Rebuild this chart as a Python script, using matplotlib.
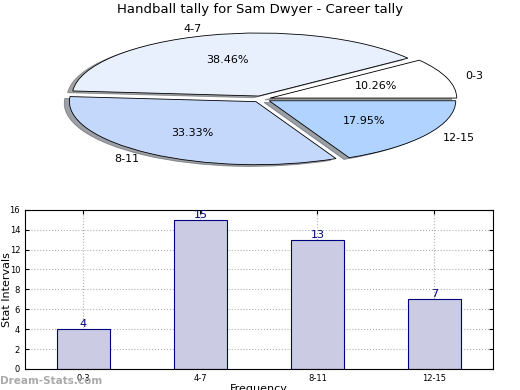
import numpy as np
import matplotlib
matplotlib.use("Agg")
import matplotlib.pyplot as plt

# data
categories = ["0-3", "4-7", "8-11", "12-15"]
counts = [4, 15, 13, 7]
pie_colors = ["#ffffff", "#e8f0fe", "#c4d8fc", "#b0d4ff"]

fig = plt.figure(figsize=(5.2, 3.9), dpi=100)

# pie on top, squashed into a wide axes
ax1 = fig.add_axes([0.054, 0.544, 0.897, 0.404])
ax1.pie(counts, labels=categories, colors=pie_colors, autopct="%1.2f%%",
        explode=[0.05] * 4, shadow=True, startangle=0,
        wedgeprops={"edgecolor": "black", "linewidth": 0.6},
        textprops={"fontsize": 8})
ax1.set_aspect("auto")
ax1.set_xlim(-1.25, 1.25)
ax1.set_ylim(-1.25, 1.25)
fig.text(0.5, 0.975, "Handball tally for Sam Dwyer - Career tally",
         ha="center", va="center", fontsize=9.5)

# bar chart below
ax2 = fig.add_axes([0.048, 0.054, 0.9, 0.408])
x = np.arange(len(categories))
ax2.bar(x, counts, width=0.45, color="#cbcbe4", edgecolor="#000080", linewidth=0.8, zorder=2)
for xi, c in zip(x, counts):
    ax2.text(xi, c, str(c), ha="center", va="bottom", fontsize=8, color="#000080")
ax2.set_xlim(-0.5, 3.5)
ax2.set_ylim(0, 16)
ax2.set_yticks(range(0, 17, 2))
ax2.set_xticks(x)
ax2.set_xticklabels(categories)
ax2.tick_params(labelsize=6, direction="in", top=True, right=True, length=3)
ax2.grid(True, linestyle=":", color="#b0b0b0", linewidth=0.8, zorder=0)
ax2.set_ylabel("Stat Intervals", fontsize=8)
ax2.yaxis.set_label_coords(-0.028, 0.5)
ax2.set_xlabel("Frequency", fontsize=8, labelpad=1)

fig.text(0.0, 0.01, "Dream-Stats.com", fontsize=7.5, color="#aaaaaa",
         fontweight="bold", ha="left", va="bottom")

fig.savefig("out.png", dpi=100)
